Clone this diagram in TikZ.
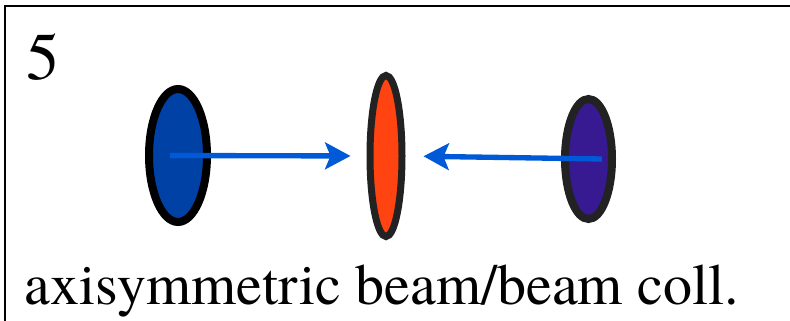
\documentclass[tikz,border=0pt]{standalone}
\usepackage{fontspec}
\setmainfont{TeX Gyre Termes}
\usetikzlibrary{shapes.geometric,arrows.meta,positioning}
\definecolor{bunchblue}{HTML}{0041A6}
\definecolor{targetred}{HTML}{FF4411}
\definecolor{bunchpurple}{HTML}{371A92}
\definecolor{beamblue}{HTML}{0059D6}
\definecolor{rimgray}{HTML}{222222}
\tikzset{
    bunch/.style={ellipse, inner sep=0pt, draw=rimgray, line width=6pt},
    beam/.style={draw=beamblue, line width=4pt,
        -{Stealth[length=19pt, width=20pt, inset=4pt, fill=beamblue]}},
}
\begin{document}
\begin{tikzpicture}[x=0.75pt, y=-0.75pt]
    \useasboundingbox (0,0) rectangle (790,321);
    % frame
    \draw[line width=1.5pt] (5,321) -- (5,6) -- (790,6);
    \node[anchor=base west, inner sep=0pt, font=\rmfamily\fontsize{50}{50}\selectfont] (num) at (26,80) {5};

    % bunches
    \node[bunch, draw=black, fill=bunchblue, minimum width=43.5pt, minimum height=99.75pt] (bunchL) at (178,155.5) {};
    \node[bunch, fill=targetred, line width=5.25pt, minimum width=24pt, minimum height=120.75pt] (target) at (386,156) {};
    \node[bunch, fill=bunchpurple, minimum width=35.25pt, minimum height=90pt] (bunchR) at (588.5,159) {};

    % beams
    \draw[beam, shorten >=12pt] ([xshift=-6pt]bunchL.center) -- (target.west);
    \draw[beam, shorten >=13.5pt] ([xshift=10pt]bunchR.center) -- (target.east);

    \node[anchor=base west, inner sep=0pt, font=\rmfamily\fontsize{43.5}{43.5}\selectfont] (caption) at (24,304) {axisymmetric beam/beam coll.};
\end{tikzpicture}
\end{document}
